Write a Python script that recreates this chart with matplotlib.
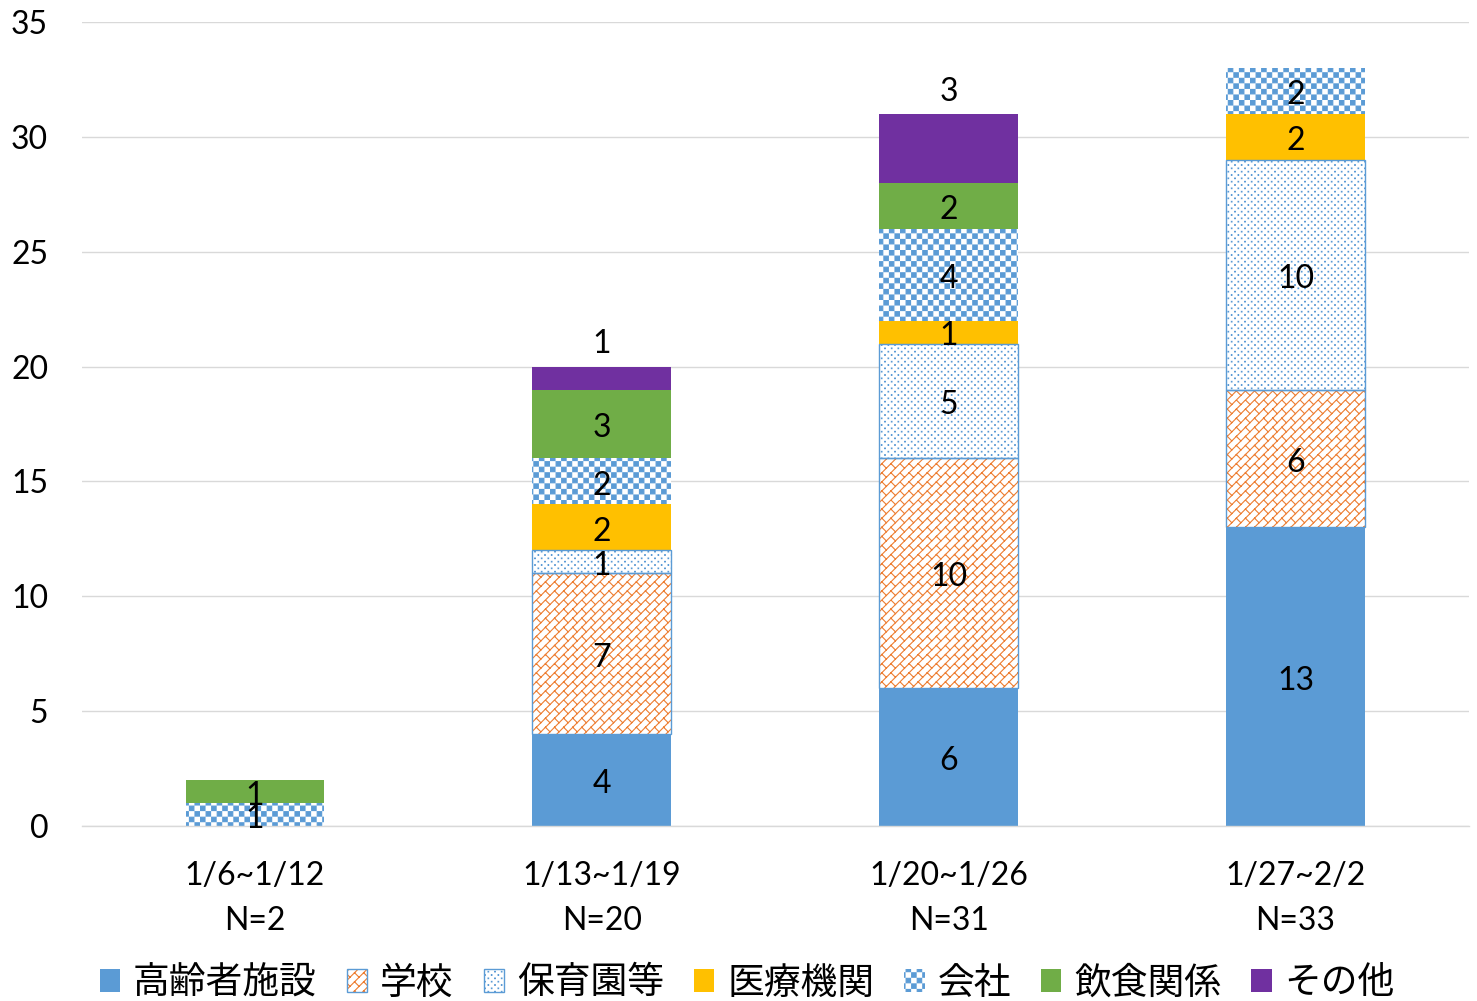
import numpy as np
import matplotlib
matplotlib.use("Agg")
import matplotlib.pyplot as plt
import matplotlib.hatch as mhatch
from matplotlib.path import Path
from matplotlib.patches import Patch
from matplotlib.legend_handler import HandlerTuple

# ---------------- data ----------------
weeks = ["1/6~1/12", "1/13~1/19", "1/20~1/26", "1/27~2/2"]
totals_label = ["N=2", "N=20", "N=31", "N=33"]
series_names = ["高齢者施設", "学校", "保育園等", "医療機関", "会社", "飲食関係", "その他"]
elderly = [0, 4, 6, 13]
school = [0, 7, 10, 6]
nursery = [0, 1, 5, 10]
medical = [0, 2, 1, 2]
company = [1, 2, 4, 2]
food = [1, 3, 2, 0]
other = [0, 1, 3, 0]
yticks = [0, 5, 10, 15, 20, 25, 30, 35]

# ---------------- custom hatch patterns ----------------
MOVETO, LINETO, CLOSEPOLY = Path.MOVETO, Path.LINETO, Path.CLOSEPOLY


class CheckerHatch(mhatch.HatchPatternBase):
    def __init__(self, hatch, density):
        self.n = 18 if "*" in hatch else 0
        self.num_vertices = (self.n * self.n // 2) * 5

    def set_vertices_and_codes(self, vertices, codes):
        n = self.n
        s = 1.0 / n
        e = 0.0055
        v, c = [], []
        for i in range(n):
            for j in range(n):
                if (i + j) % 2 == 0:
                    x0, y0, x1, y1 = i * s + e, j * s + e, (i + 1) * s - e, (j + 1) * s - e
                    v += [(x0, y0), (x1, y0), (x1, y1), (x0, y1), (x0, y0)]
                    c += [MOVETO, LINETO, LINETO, LINETO, CLOSEPOLY]
        vertices[:] = v
        codes[:] = c


class BrickHatch(mhatch.HatchPatternBase):
    def __init__(self, hatch, density):
        self.n = 11 if "O" in hatch else 0
        self.num_vertices = self.n * self.n * 4

    def set_vertices_and_codes(self, vertices, codes):
        n = self.n
        s = 1.0 / n
        v, c = [], []
        for i in range(n):
            for j in range(n):
                x, y = i * s, j * s
                v += [(x, y), (x + s, y + s), (x, y + s), (x + s / 2, y + s / 2)]
                c += [MOVETO, LINETO, MOVETO, LINETO]
        vertices[:] = v
        codes[:] = c


class DotHatch(mhatch.HatchPatternBase):
    def __init__(self, hatch, density):
        self.rows = 30 if "." in hatch else 0
        self.cols = 15
        self.num_vertices = self.rows * self.cols * 5

    def set_vertices_and_codes(self, vertices, codes):
        d = 0.003
        v, c = [], []
        for r in range(self.rows):
            y = (r + 0.5) / self.rows
            shift = 0.5 if r % 2 else 0.0
            for k in range(self.cols):
                x = (k + 0.25 + shift) / self.cols
                v += [(x - d, y - d), (x + d, y - d), (x + d, y + d), (x - d, y + d), (x - d, y - d)]
                c += [MOVETO, LINETO, LINETO, LINETO, CLOSEPOLY]
        vertices[:] = v
        codes[:] = c


mhatch._hatch_types = [h for h in mhatch._hatch_types
                       if h not in (mhatch.Stars, mhatch.LargeCircles, mhatch.SmallFilledCircles)]
mhatch._hatch_types += [CheckerHatch, BrickHatch, DotHatch]

plt.rcParams["hatch.linewidth"] = 0.8
plt.rcParams["font.family"] = ["Lato", "Noto Sans CJK JP", "DejaVu Sans"]

# ---------------- styles ----------------
BLUE = "#5B9BD5"
ORANGE = "#ED7D31"
styles = [
    dict(facecolor=BLUE, hatch=None, hatchcolor=None, border=False),
    dict(facecolor="white", hatch="O", hatchcolor=ORANGE, border=True),
    dict(facecolor="white", hatch=".", hatchcolor=BLUE, border=True),
    dict(facecolor="#FFC000", hatch=None, hatchcolor=None, border=False),
    dict(facecolor="white", hatch="*", hatchcolor=BLUE, border=False),
    dict(facecolor="#70AD47", hatch=None, hatchcolor=None, border=False),
    dict(facecolor="#7030A0", hatch=None, hatchcolor=None, border=False),
]
all_series = [elderly, school, nursery, medical, company, food, other]

fig = plt.figure(figsize=(14.77, 10.01), dpi=100)
ax = fig.add_axes([81.5 / 1477, 175 / 1001, 1387.5 / 1477, 804 / 1001])

x = np.arange(len(weeks))
width = 0.4
bottom = np.zeros(len(weeks))
handles = []
for name, vals, st in zip(series_names, all_series, styles):
    vals = np.array(vals, dtype=float)
    mask = vals > 0
    if st["hatch"] is None:
        ax.bar(x[mask], vals[mask], width, bottom=bottom[mask], color=st["facecolor"],
               linewidth=0, zorder=2)
        h = Patch(facecolor=st["facecolor"], linewidth=0)
    else:
        ax.bar(x[mask], vals[mask], width, bottom=bottom[mask], facecolor="white",
               edgecolor=st["hatchcolor"], hatch=st["hatch"], linewidth=0, zorder=2)
        h = Patch(facecolor="white", edgecolor=st["hatchcolor"], hatch=st["hatch"], linewidth=0)
        if st["border"]:
            ax.bar(x[mask], vals[mask], width, bottom=bottom[mask], fill=False,
                   edgecolor=BLUE, linewidth=1.0, zorder=3)
            h = (h, Patch(fill=False, edgecolor=BLUE, linewidth=1.0))
    handles.append(h)
    for xi, v, b in zip(x, vals, bottom):
        if v <= 0:
            continue
        if name == "その他":
            ax.annotate(f"{int(v)}", xy=(xi, b + v), xytext=(0, 16), textcoords="offset points",
                        ha="center", va="center", fontsize=23, zorder=5)
        else:
            ax.annotate(f"{int(v)}", xy=(xi, b + v / 2), xytext=(0, -3), textcoords="offset points",
                        ha="center", va="center", fontsize=23, zorder=5)
    bottom = bottom + vals

ax.set_xlim(-0.5, 3.5)
ax.set_ylim(0, 35)
ax.set_yticks(yticks)
ax.set_yticklabels([str(t) for t in yticks], fontsize=23)
ax.set_xticks(x)
ax.set_xticklabels([f"{w}\n{n}" for w, n in zip(weeks, totals_label)], fontsize=23,
                   linespacing=1.65)
ax.tick_params(axis="y", length=0, pad=24)
ax.tick_params(axis="x", length=0, pad=25)
ax.yaxis.grid(True, color="#D9D9D9", linewidth=1.0)
ax.set_axisbelow(True)
for sp in ["left", "right", "top"]:
    ax.spines[sp].set_visible(False)
ax.spines["bottom"].set_color("#D9D9D9")
ax.spines["bottom"].set_linewidth(1.0)

fig.legend(handles, series_names, loc="center", bbox_to_anchor=(0.506, 1 - 983 / 1001),
           ncol=7, frameon=False, prop={"family": ["Noto Sans CJK JP"], "size": 26.5},
           handlelength=0.55, handleheight=0.55, handletextpad=0.35, columnspacing=0.82,
           borderaxespad=0, borderpad=0,
           handler_map={tuple: HandlerTuple(ndivide=1, pad=0)})

fig.savefig("out.png", dpi=100)
